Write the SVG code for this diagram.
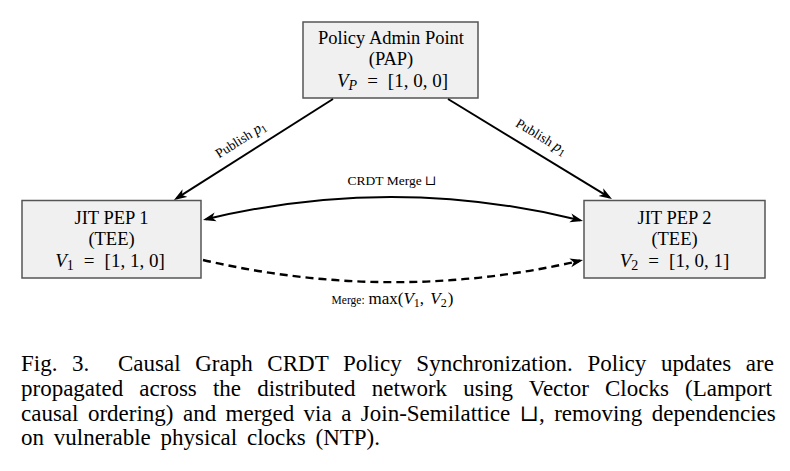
<svg xmlns="http://www.w3.org/2000/svg" width="790" height="471" viewBox="0 0 790 471">
<style>
text{font-family:"Liberation Serif","DejaVu Serif",serif;fill:#000}
.box{fill:#f0f0f0;stroke:#555;stroke-width:1.5}
.n{font-size:18.5px}
.m{font-size:19px}
.e{font-size:13.5px}
.cap{font-size:23px}
.conn{fill:none;stroke:#000;stroke-width:2}
.dash{stroke-dasharray:8 5;stroke-width:2.4}
.it{font-style:italic}
</style>
<defs>
<marker id="ah" viewBox="0 0 13 10" refX="10" refY="5" markerWidth="13" markerHeight="10" markerUnits="userSpaceOnUse" orient="auto-start-reverse">
<path d="M0,0.5 L13,5 L0,9.5 L3.5,5 Z" fill="#000"/>
</marker>
</defs>
<rect width="790" height="471" fill="#fff"/>
<g id="pap">
<rect class="box" x="303" y="22" width="175" height="76"/>
<text class="n" x="391" y="44" text-anchor="middle">Policy Admin Point</text>
<text class="n" x="391" y="65" text-anchor="middle">(PAP)</text>
<text class="m" x="392.5" y="87" text-anchor="middle"><tspan class="it">V</tspan><tspan class="it" font-size="14" dy="3">P</tspan><tspan dy="-3" dx="10">=</tspan><tspan dx="10">[1, 0, 0]</tspan></text>
</g>
<g id="pep1">
<rect class="box" x="22" y="200.5" width="179" height="77.5"/>
<text class="n" x="111.5" y="224" text-anchor="middle">JIT PEP 1</text>
<text class="n" x="111.5" y="245" text-anchor="middle">(TEE)</text>
<text class="m" x="110" y="266.5" text-anchor="middle"><tspan class="it">V</tspan><tspan font-size="14" dy="3">1</tspan><tspan dy="-3" dx="10">=</tspan><tspan dx="10">[1, 1, 0]</tspan></text>
</g>
<g id="pep2">
<rect class="box" x="584" y="200.5" width="181" height="77.5"/>
<text class="n" x="674.5" y="224" text-anchor="middle">JIT PEP 2</text>
<text class="n" x="674.5" y="245" text-anchor="middle">(TEE)</text>
<text class="m" x="674.5" y="266.5" text-anchor="middle"><tspan class="it">V</tspan><tspan font-size="14" dy="3">2</tspan><tspan dy="-3" dx="10">=</tspan><tspan dx="10">[1, 0, 1]</tspan></text>
</g>
<g id="connectors">
<path class="conn" d="M333,99 L176.5,198.4" marker-end="url(#ah)"/>
<path class="conn" d="M448,99 L609.4,197.4" marker-end="url(#ah)"/>
<path class="conn" d="M205.9,219.3 Q393,174 580.1,220.3" marker-start="url(#ah)" marker-end="url(#ah)"/>
<path class="conn dash" d="M203,260 Q393,304 580.1,260.7" marker-end="url(#ah)"/>
<text class="e" transform="translate(243,143.4) rotate(-32.4)" text-anchor="middle">Publish <tspan class="it" font-size="15">p</tspan><tspan font-size="10.5" dy="2.5">1</tspan></text>
<text class="e" transform="translate(539,140.4) rotate(31.4)" text-anchor="middle">Publish <tspan class="it" font-size="15">p</tspan><tspan font-size="10.5" dy="2.5">1</tspan></text>
<text class="e" x="392" y="185" text-anchor="middle">CRDT Merge ⊔</text>
<text x="392.5" y="304" text-anchor="middle" font-size="11.5">Merge: <tspan font-size="17" dx="1">max(</tspan><tspan class="it" font-size="17">V</tspan><tspan font-size="12" dy="3">1</tspan><tspan font-size="17" dy="-3">, </tspan><tspan class="it" font-size="17" dx="2">V</tspan><tspan font-size="12" dy="3">2</tspan><tspan font-size="17" dy="-3" dx="1">)</tspan></text>
</g>
<g id="caption">
<text class="cap" x="21" y="371" word-spacing="8.9">Fig. 3. <tspan dx="14">Causal Graph CRDT Policy Synchronization. Policy updates are</tspan></text>
<text class="cap" x="21" y="396" word-spacing="10.4">propagated across the distributed network using Vector Clocks (Lamport</text>
<text class="cap" x="21" y="421" word-spacing="3.7">causal ordering) and merged via a Join-Semilattice ⊔, removing dependencies</text>
<text class="cap" x="21" y="445" word-spacing="4">on vulnerable physical clocks (NTP).</text>
</g>
</svg>
